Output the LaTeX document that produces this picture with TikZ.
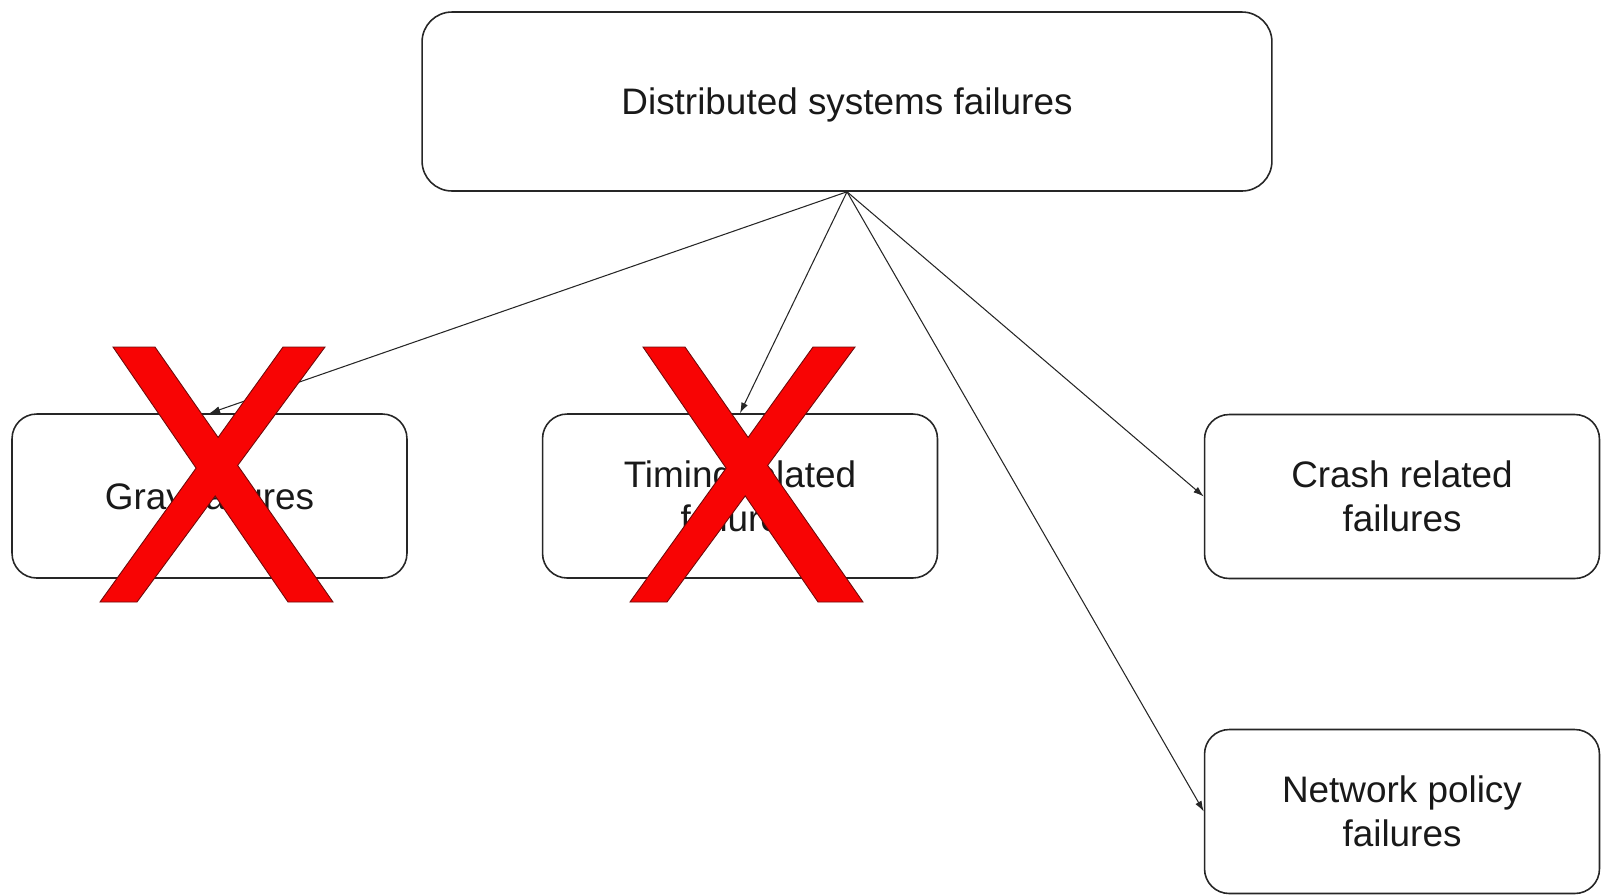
\documentclass[tikz,border=0pt]{standalone}
\usepackage{fontspec}
\setmainfont{Liberation Sans}
\usetikzlibrary{arrows.meta}

\definecolor{xred}{RGB}{248,4,4}
\definecolor{xedge}{RGB}{110,10,10}

\tikzset{
  box/.style={draw=black!85, line width=0.9pt, rounded corners=14pt,
    align=center, inner sep=0pt, text=black!90,
    font=\fontsize{21}{25}\selectfont},
  oneline/.style={text height=19.5pt, text depth=4.5pt},
  leaf/.style={box, minimum width=7.9cm, minimum height=3.28cm},
  conn/.style={draw=black!85, line width=0.6pt,
    -{Latex[length=6pt,width=4pt]}},
  crossmark/.pic={
    \filldraw[fill=xred, draw=xedge, line width=0.5pt]
      (113,347) -- (155,347) -- (218.1,437.4) -- (283,347) -- (325,347)
      -- (237.7,465.4) -- (333,602) -- (288,602) -- (215.2,495.9)
      -- (137,602) -- (100,602) -- (196.1,468.1) -- cycle;
  }
}

\begin{document}
\begin{tikzpicture}[x=0.02cm, y=-0.02cm]
  \useasboundingbox (0,0) rectangle (1602,894);

  % root of the taxonomy
  \node[box, oneline, rounded corners=17pt, minimum width=17cm, minimum height=3.58cm]
    (root) at (847,101.5) {Distributed systems failures};

  % failure categories
  \node[leaf, oneline] (gray) at (209.5,496) {Gray failures};
  \node[leaf] (timing)  at (740,496)    {Timing related\\failures};
  \node[leaf] (crash)   at (1402,496.5) {Crash related\\failures};
  \node[leaf] (network) at (1402,811.5) {Network policy\\failures};

  % branches from the root
  \coordinate (hub) at (root.south);
  \draw[conn] (hub) -- (gray.north);
  \draw[conn] (hub) -- (timing.north);
  \draw[conn] (hub) -- (crash.west);
  \draw[conn] (hub) -- (network.west);

  % categories ruled out
  \pic at (0,0) {crossmark};
  \pic at (530,0) {crossmark};
\end{tikzpicture}
\end{document}
